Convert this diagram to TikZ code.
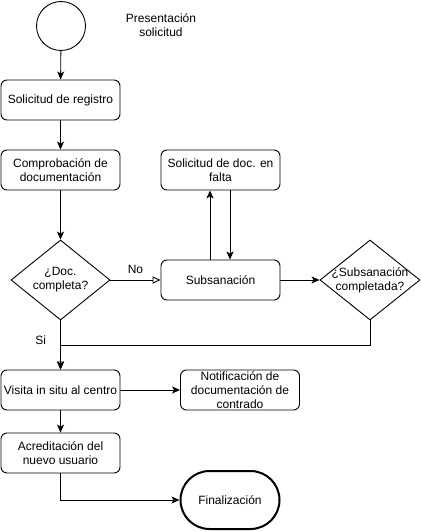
\documentclass[tikz,border=0pt]{standalone}
\usepackage{fontspec}
\setmainfont{Liberation Sans}
\usetikzlibrary{shapes.geometric,arrows.meta}

\begin{document}
\begin{tikzpicture}[x=1pt, y=-1pt, line width=.9pt,
  every node/.style={font=\fontsize{12}{14}\selectfont, align=center, inner sep=0pt},
  proc/.style={draw, rounded corners=6, minimum width=119, minimum height=40},
  dec/.style={draw, diamond, minimum width=99, minimum height=80},
  term/.style={draw, line width=2pt, rounded corners=29, minimum width=99, minimum height=58},
  conn/.style={-{Stealth[length=8pt,width=7pt,inset=2pt]}},
  oconn/.style={-{Triangle[open,length=8pt,width=7pt]}}]

  \useasboundingbox (0,0) rectangle (421,532);

  % Nodes
  \node[draw, circle, minimum size=49] (ini) at (61,26) {};
  \node (pres) at (161,25) {Presentación\\solicitud};
  \node[proc] (reg) at (60.5,100) {Solicitud de registro};
  \node[proc] (comp) at (60.5,170) {Comprobación de\\documentación};
  \node[proc] (falta) at (220.5,170) {Solicitud de doc. en\\falta};
  \node[dec] (dcom) at (60.5,280) {};
  \node (tdcom) at (dcom) {¿Doc.\\completa?};
  \node[proc] (subs) at (220.5,280) {Subsanación};
  \node[dec, minimum width=100] (dsub) at (370,280) {};
  \node (tdsub) at (dsub) {¿Subsanación\\completada?};
  \coordinate (merge) at (60.5,345);
  \node[proc] (visita) at (60.5,390) {Visita in situ al centro};
  \node[proc] (notif) at (240,390) {Notificación de\\documentación de\\contrado};
  \node[proc] (acred) at (60.5,453) {Acreditación del\\nuevo usuario};
  \node[term] (fin) at (230,500) {Finalización};

  % Connectors
  \draw[conn] (ini) -- (reg);
  \draw[conn] (reg) -- (comp);
  \draw[conn] (comp) -- (dcom);
  \draw[oconn] (dcom) -- node[above=6pt] (lno) {No} (subs);
  \draw[conn] ([xshift=-10.5pt]subs.north) -- ([xshift=-10.5pt]falta.south);
  \draw[conn] ([xshift=9.5pt]falta.south) -- ([xshift=9.5pt]subs.north);
  \draw[conn] (subs) -- (dsub);
  \draw[conn] (dsub) |- (merge) -- (visita);
  \draw[oconn] (dcom) -- node[pos=.4, left=14pt] (lsi) {Si} (visita);
  \draw[conn] (visita) -- (notif);
  \draw[conn] (visita) -- (acred);
  \draw[conn] (acred) |- (fin);
\end{tikzpicture}
\end{document}
